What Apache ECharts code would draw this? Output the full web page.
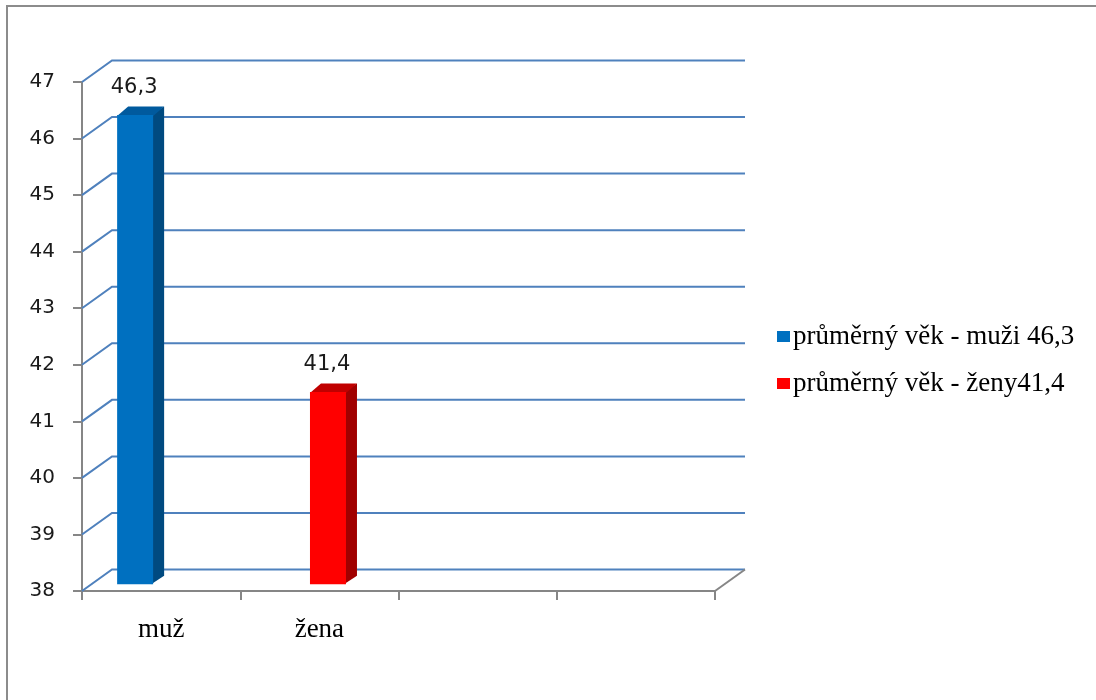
<!DOCTYPE html>
<html>
<head>
<meta charset="utf-8">
<script src="https://cdn.jsdelivr.net/npm/echarts@6/dist/echarts.min.js"></script>
<style>
  html, body { margin: 0; padding: 0; background: #ffffff; }
  #chart { width: 1096px; height: 700px; }
</style>
</head>
<body>
<div id="chart"></div>
<script>
// Average age by sex
const categories = ['muž', 'žena', '', ''];
const seriesNames = ['průměrný věk - muži 46,3', 'průměrný věk - ženy41,4'];
const menValues = [46.3, null, null, null];
const womenValues = [null, 41.4, null, null];
const yTicks = [38, 39, 40, 41, 42, 43, 44, 45, 46, 47];

const yMin = yTicks[0];
const yMax = yTicks[yTicks.length - 1];

// pseudo-3D geometry
const WALL_DX = 30, WALL_DY = -21.5;   // depth of the plot box
const FACE_DY = -6.7;                  // bar front face sits a little inside the box
const BAR_DX = 11, BAR_DY = -8.5;      // bar depth
const BAR_W = 36;

const GRID_BLUE = '#4f81bd';
const AXIS_GREY = '#868686';

function fmt(v) { return v.toFixed(1).replace('.', ','); }

function pairs(arr) {
  return arr.map((v, i) => (v == null ? null : [i, v])).filter(Boolean);
}

// back wall + left side wall grid lines
function gridRenderer(params, api) {
  const cs = params.coordSys;
  const v = api.value(0);
  const y = api.coord([0, v])[1];
  const x0 = cs.x, x1 = cs.x + cs.width;
  const children = [{
    type: 'polyline',
    shape: { points: [[x0, y], [x0 + WALL_DX, y + WALL_DY], [x1 + WALL_DX, y + WALL_DY]] },
    style: { stroke: GRID_BLUE, lineWidth: 2, fill: null }
  }];
  if (v === yMin) {
    children.push({
      type: 'line',
      shape: { x1: x1, y1: y, x2: x1 + WALL_DX, y2: y + WALL_DY },
      style: { stroke: AXIS_GREY, lineWidth: 2 }
    });
  }
  return { type: 'group', children: children };
}

// column drawn as front face, right side and top
function barRenderer(shift, front, side, top) {
  return function (params, api) {
    const ci = api.value(0), v = api.value(1);
    const p = api.coord([ci, v]);
    const base = api.coord([ci, yMin]);
    const cx = p[0] + shift;
    const yt = p[1] + FACE_DY, yb = base[1] + FACE_DY;
    const l = cx - BAR_W / 2, r = cx + BAR_W / 2;
    return {
      type: 'group',
      children: [
        { type: 'polygon', shape: { points: [[r - 2, yt], [r + BAR_DX, yt + BAR_DY], [r + BAR_DX, yb + BAR_DY], [r - 2, yb]] }, style: { fill: side } },
        { type: 'polygon', shape: { points: [[l, yt + 1], [l + BAR_DX, yt + BAR_DY], [r + BAR_DX, yt + BAR_DY], [r, yt + 1]] }, style: { fill: top } },
        { type: 'rect', shape: { x: l, y: yt, width: BAR_W, height: yb - yt }, style: { fill: front } },
        { type: 'text', x: cx - 1, y: yt + BAR_DY - 8,
          style: { text: fmt(v), font: '21px "DejaVu Sans"', fill: '#1a1a1a', align: 'center', verticalAlign: 'bottom' } }
      ]
    };
  };
}

const chart = echarts.init(document.getElementById('chart'), null, { renderer: 'canvas' });

chart.setOption({
  animation: false,
  backgroundColor: '#ffffff',
  graphic: [{
    type: 'polyline',
    shape: { points: [[7, 700], [7, 6], [1096, 6]] },
    style: { stroke: '#8c8c8c', lineWidth: 2, fill: null },
    silent: true
  }],
  legend: {
    orient: 'vertical',
    left: 772,
    top: 318,
    itemWidth: 13,
    itemHeight: 11,
    itemGap: 20,
    icon: 'rect',
    textStyle: { fontFamily: '"Liberation Serif"', fontSize: 27, color: '#000000', padding: [0, 0, 0, -2] },
    data: seriesNames
  },
  grid: { left: 82, top: 82, width: 633, height: 509 },
  xAxis: {
    type: 'category',
    data: categories,
    boundaryGap: true,
    axisLine: { lineStyle: { color: AXIS_GREY, width: 2 } },
    axisTick: { show: true, length: 9, lineStyle: { color: AXIS_GREY, width: 2 } },
    axisLabel: { margin: 25, fontFamily: '"Liberation Serif"', fontSize: 27, color: '#000000' },
    splitLine: { show: false }
  },
  yAxis: {
    type: 'value',
    min: yMin,
    max: yMax,
    interval: 1,
    axisLine: { show: true, lineStyle: { color: AXIS_GREY, width: 2 } },
    axisTick: { show: true, length: 9, lineStyle: { color: AXIS_GREY, width: 2 } },
    axisLabel: { margin: 27, fontFamily: '"DejaVu Sans"', fontSize: 20, color: '#1a1a1a' },
    splitLine: { show: false }
  },
  series: [
    {
      type: 'custom',
      name: 'grid',
      renderItem: gridRenderer,
      data: yTicks.map(v => [v]),
      encode: { y: 0 },
      silent: true,
      z: 1
    },
    {
      type: 'custom',
      name: seriesNames[0],
      itemStyle: { color: '#0070c0' },
      renderItem: barRenderer(-26, '#0070c0', '#004a80', '#005a9e'),
      data: pairs(menValues),
      encode: { x: 0, y: 1 },
      z: 3
    },
    {
      type: 'custom',
      name: seriesNames[1],
      itemStyle: { color: '#ff0000' },
      renderItem: barRenderer(8.6, '#ff0000', '#a00000', '#c00000'),
      data: pairs(womenValues),
      encode: { x: 0, y: 1 },
      z: 3
    }
  ]
});
</script>
</body>
</html>
